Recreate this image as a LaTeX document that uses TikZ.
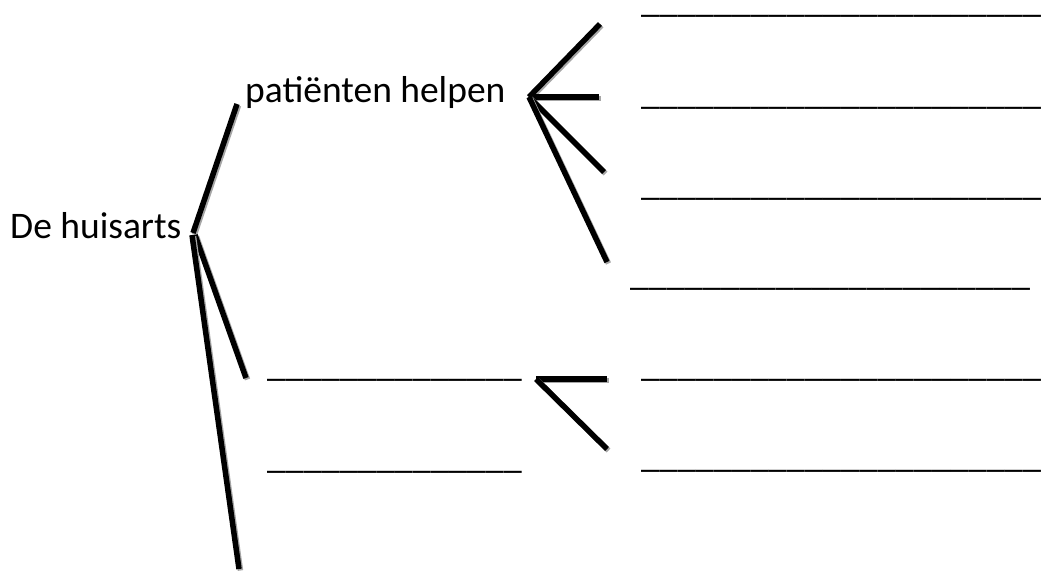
\documentclass[tikz,border=0pt]{standalone}
\usepackage{fontspec}
\setmainfont{Carlito}
\begin{document}
\begin{tikzpicture}[x=1pt,y=-1pt,
  lbl/.style={inner sep=0pt, anchor=base west, font=\fontsize{37.5}{45}\selectfont},
  blank/.style={inner sep=0pt, anchor=base west, font=\fontsize{36.5}{44}\selectfont},
  branch/.style={line width=5.5pt, black,
    preaction={draw=black!35, line width=5.5pt, transform canvas={shift={(1.5pt,-1.5pt)}}}}]
\useasboundingbox (0,0) rectangle (1042,584);
% labels
\node[lbl] (root) at (10,238) {De huisarts};
\node[lbl] (help) at (245,102) {patiënten helpen};
% blanks (right column)
\node[blank] (r1) at (641,12) {\_\_\_\_\_\_\_\_\_\_\_\_\_\_\_\_\_\_\_\_\_\_};
\node[blank] (r2) at (641,104) {\_\_\_\_\_\_\_\_\_\_\_\_\_\_\_\_\_\_\_\_\_\_};
\node[blank] (r3) at (641,195) {\_\_\_\_\_\_\_\_\_\_\_\_\_\_\_\_\_\_\_\_\_\_};
\node[blank] (r4) at (630,285) {\_\_\_\_\_\_\_\_\_\_\_\_\_\_\_\_\_\_\_\_\_\_};
\node[blank] (r5) at (641,376) {\_\_\_\_\_\_\_\_\_\_\_\_\_\_\_\_\_\_\_\_\_\_};
\node[blank] (r6) at (641,467) {\_\_\_\_\_\_\_\_\_\_\_\_\_\_\_\_\_\_\_\_\_\_};
% blanks (middle column)
\node[blank] (m1) at (267,376) {\_\_\_\_\_\_\_\_\_\_\_\_\_\_};
\node[blank] (m2) at (267,468) {\_\_\_\_\_\_\_\_\_\_\_\_\_\_};
% junctions and branch ends
\coordinate (jr) at (193,233);
\coordinate (jr2) at (195,235);
\coordinate (jr3) at (192,235);
\coordinate (e1) at (237,104);
\coordinate (e2) at (246,378);
\coordinate (e3) at (239,569);
\coordinate (jh) at (529,97);
\coordinate (h1) at (600,24);
\coordinate (h2) at (599,97);
\coordinate (h3) at (604,172);
\coordinate (h4) at (607,262);
\coordinate (jm) at (536,379);
\coordinate (k1) at (607,379);
\coordinate (k2) at (607,449);
% branches
\draw[branch] (jr) -- (e1);
\draw[branch] (jr2) -- (e2);
\draw[branch] (jr3) -- (e3);
\draw[branch] (jh) -- (h1);
\draw[branch] (jh) -- (h2);
\draw[branch] (jh) -- (h3);
\draw[branch] (jh) -- (h4);
\draw[branch] (jm) -- (k1);
\draw[branch] (jm) -- (k2);
\end{tikzpicture}
\end{document}
